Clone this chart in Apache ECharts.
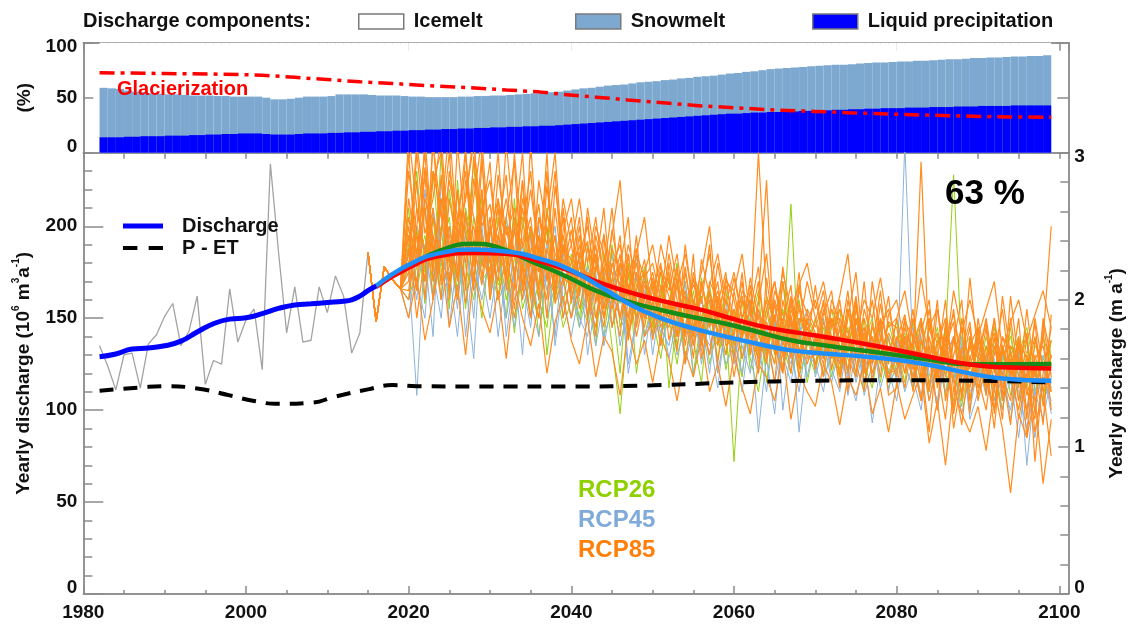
<!DOCTYPE html>
<html><head><meta charset="utf-8">
<script src="https://cdn.jsdelivr.net/npm/echarts@6/dist/echarts.min.js"></script>
<style>html,body{margin:0;padding:0;background:#fff}#c{width:1130px;height:624px}</style>
</head><body><div id="c"></div>
<script>
// ---------------- DATA ----------------
const barFirstYear = 1982; // bars 1982..2098
const liquidTop = [
 14,14,14,14.5,14.5,15,15,15,15.5,15.5,
 15.5,16,16,16.5,16.5,17,17,17.5,17.5,17.5,
 17,16.5,16.5,16.5,17,17.5,17.5,17.5,18,18,
 18.5,18.5,19,19,19.5,19.5,20,20,20.5,20.5,
 21,21,21.5,21.5,22,22,22.5,22.5,23,23,
 23.5,23.5,24,24,24.5,24.5,25,25.5,26,26.5,
 27,27.5,28,28.5,29,29.5,30,30.5,31,31.5,
 32,32.5,33,33.5,34,34.5,35,35.5,35.5,36,
 36.5,36.5,37,37,37.5,37.5,38,38,38.5,38.5,
 39,39,39.5,39.5,40,40,40.5,40.5,40.5,41,
 41,41,41.5,41.5,41.5,42,42,42,42.5,42.5,
 42.5,42.5,43,43,43,43,43];
const snowTop = [
 59,58.5,58,56.5,55.5,55,54,53.5,53,53,
 52.5,52,52,52,51.5,51.5,51,51,51,51,
 50,48.5,48.5,49,50,51,51,51,51.5,53,
 53,53,53,52.5,52,52,52,51.5,51,51,
 50.5,50.5,50.5,50.5,51,51,51.5,51.5,52,52,
 52.5,53,53.5,54,54.5,55,55.5,56.5,57.5,58.5,
 59,60,61,61.5,62,63,64,64.5,65,66,
 66.5,67.5,68,69,69.5,70,71,72,72.5,73.5,
 74,75,76,76.5,77,77.5,78,78.5,79,79.5,
 80,80,80.5,81,81.5,82,82,82.5,83,83,
 83.5,83.5,84,84.5,85,85,85.5,86,86,86.5,
 86.5,87,87.5,87.5,88,88,88.5];
const glacierization = [[1982,72.7],[1990,72],[1996,71.5],[2002,70.5],[2006,68.5],[2010,66.5],[2014,64.5],[2018,63],[2022,61],[2027,59.3],[2032,57],[2036,55.3],[2039,53],[2043,50.5],[2047,48],[2052,45],[2056,42.5],[2061,40.5],[2065,38.8],[2070,37.5],[2074,36.4],[2079,35.2],[2083,34.3],[2088,33.4],[2092,32.7],[2099,32.2]];

const obsFirstYear = 1982; // observed yearly discharge 1982..2015
const observed = [135,124,111,130,131,112,136,141,151,158,135,143,162,114,127,125,166,137,149,155,122,234,186,142,167,137,138,167,153,173,162,131,142,186];
const dischargeSmooth = [[1982,129],[1984,130.5],[1986,133.2],[1988,133.8],[1990,135],[1992,137.5],[1994,142.5],[1996,147],[1998,149.5],[2000,150.2],[2002,152.5],[2004,155.3],[2006,157.2],[2008,157.8],[2010,158.5],[2012,159.2],[2013,160],[2014,162],[2015,165],[2016,167.5]];
const pEt = [[1982,110.5],[1987,112.3],[1990,113],[1994,111.8],[1998,108],[2001,105],[2004,103.4],[2008,104],[2011,107.4],[2015,111.3],[2018,113.6],[2021,113],[2030,112.8],[2040,112.8],[2050,113.5],[2060,115],[2070,116],[2080,116.3],[2090,116],[2099,115]];

const projFirstYear = 2015; // projections 2015..2099
const projStart = [186,148,178,171,166]; // 2015-2019 common
const rcp26 = [
 [190,230,175,205,160,220,185,200,170,215, 180,160,205,175,190,150,170,198,160,182, 165,145,180,160,170,135,98,150,172,140, 160,175,112,150,140,165,135,155,128,148, 72,140,150,130,162,145,138,212,125,150, 140,128,155,132,145,118,150,135,125,148, 130,142,118,135,150,122,140,228,130,118, 135,125,145,118,130,140,112,135,128,120],
 [170,185,210,160,240,178,195,155,205,180, 200,175,150,215,165,185,140,175,195,158, 185,160,148,172,155,190,145,165,150,175, 140,158,170,135,160,120,150,168,140,130, 155,128,145,165,115,148,135,120,150,138, 125,150,118,140,130,160,112,135,145,120, 135,115,148,125,110,140,128,115,145,108, 118,140,125,100,135,122,140,110,128,132],
 [210,165,190,180,200,155,225,178,160,195, 165,205,185,142,178,200,160,145,180,170, 150,178,162,135,185,160,120,175,148,160, 170,140,155,180,128,150,162,125,145,165, 130,160,122,140,155,130,170,142,118,135, 150,132,140,122,155,128,138,150,115,140, 120,138,130,150,115,132,108,140,125,135, 128,110,138,125,145,105,130,118,140,125],
 [180,200,158,230,175,190,165,210,185,150, 190,168,178,200,155,172,188,130,168,195, 172,150,190,168,140,172,158,180,120,150, 150,128,160,145,170,138,115,160,150,122, 145,150,128,110,140,125,155,130,145,115, 138,120,145,155,120,142,125,112,140,130, 148,125,112,138,130,120,145,125,102,128, 140,122,115,135,108,130,145,120,115,110],
 [160,178,195,170,185,205,160,188,235,170, 178,190,160,182,205,165,150,210,170,145, 160,185,170,150,175,145,165,140,160,178, 145,165,150,125,155,140,172,145,135,155, 140,118,160,145,130,150,122,140,160,132, 120,145,130,118,135,150,125,145,130,112, 125,140,135,115,128,145,120,105,132,140, 122,135,105,128,140,118,132,125,105,138]
];
const rcp45 = [
 [175,108,190,160,215,145,185,170,128,200, 165,190,150,178,130,195,160,175,140,185, 160,175,150,168,140,155,180,125,150,165, 140,155,128,150,165,118,145,135,150,125, 135,110,145,88,130,140,120,150,88,130, 125,140,115,135,120,105,130,93,125,140, 115,245,130,108,125,118,140,100,122,110, 118,130,105,125,95,120,112,85,118,105],
 [195,170,150,210,180,165,200,140,185,175, 150,180,205,160,170,145,190,165,180,150, 175,145,165,185,150,170,135,158,175,140, 155,142,160,130,145,158,125,150,138,160, 125,150,135,120,145,115,138,125,150,118, 140,118,130,145,108,132,120,140,112,128, 130,110,125,140,105,130,115,125,98,120, 112,128,118,100,125,110,90,122,105,115],
 [160,200,185,140,225,190,155,205,180,160, 185,140,175,200,160,180,150,192,135,170, 150,185,130,160,175,145,165,150,185,130, 160,135,150,170,140,155,132,165,120,145, 150,128,160,135,110,148,130,115,140,155, 118,135,150,125,140,115,135,128,145,110, 138,125,112,148,120,105,135,115,140,100, 125,108,135,115,100,128,70,115,125,98],
 [185,160,220,175,150,200,172,195,150,210, 170,195,140,175,190,160,140,178,200,158, 140,165,178,135,160,185,150,140,165,150, 170,145,135,158,125,145,160,140,112,150, 140,120,150,128,140,160,100,135,125,145, 130,150,122,110,138,128,145,118,132,122, 105,135,145,118,128,100,130,140,115,125, 135,115,100,130,118,85,125,108,130,112],
 [150,185,170,195,160,175,140,190,165,180, 200,160,170,145,185,170,200,150,168,190, 165,150,140,175,135,160,170,120,148,172, 130,160,150,140,170,135,150,120,160,140, 148,135,120,155,128,98,145,132,110,140, 125,110,140,130,118,145,108,125,138,115, 122,140,118,100,135,128,110,125,135,95, 110,120,128,105,115,132,100,110,95,118]
];
const rcp85 = [
 [205,178,232,190,160,215,188,170,226,195, 180,210,165,198,176,150,205,182,168,190, 158,185,172,140,196,165,150,178,160,145, 170,148,160,132,175,150,138,165,142,155, 128,160,145,120,172,140,130,152,118,148, 135,160,122,145,110,150,138,125,158,130, 118,145,130,105,150,122,95,140,128,112, 138,108,150,120,92,135,115,148,102,125],
 [175,240,196,215,250,182,205,230,178,210, 225,188,200,172,215,195,160,208,185,176, 198,170,162,190,155,180,168,145,175,160, 142,168,155,178,135,160,148,130,162,140, 155,138,165,142,125,158,135,148,128,150, 122,148,135,160,128,118,142,130,150,115, 140,128,155,118,135,100,148,125,110,138, 120,145,98,132,118,140,85,128,135,110],
 [160,195,170,248,185,200,172,240,190,168, 198,240,180,165,225,178,195,150,210,172, 168,195,150,178,210,160,140,185,155,170, 160,135,180,150,162,128,170,145,158,138, 142,175,130,155,140,115,160,138,145,170, 150,128,140,112,155,135,145,120,138,162, 125,150,110,138,125,160,105,130,145,98, 150,125,112,162,130,105,140,72,120,145],
 [188,165,210,175,228,160,245,195,182,220, 168,195,215,185,160,200,176,230,165,188, 182,155,175,165,145,188,175,158,195,150, 165,180,138,158,145,172,150,160,125,168, 150,128,148,170,135,152,122,162,140,125, 140,118,150,138,165,125,110,148,130,142, 132,112,140,125,88,135,150,118,92,130, 108,135,125,95,150,118,100,130,112,75],
 [250,210,185,230,205,255,190,215,245,200, 212,180,245,200,190,220,185,205,240,178, 190,215,180,205,170,195,225,165,185,172, 180,160,195,168,185,158,175,200,152,170, 165,185,150,240,162,148,175,155,168,180, 155,170,145,162,185,140,160,150,172,145, 150,165,138,172,145,155,130,165,142,160, 140,155,170,132,148,160,138,152,165,145],
 [150,172,138,160,185,145,168,130,175,155, 142,165,128,170,150,135,158,120,148,162, 138,125,150,118,140,132,108,145,125,138, 115,140,128,105,132,118,140,110,125,102, 130,112,98,125,118,105,132,95,120,110, 102,125,115,92,118,108,125,98,112,88, 115,95,108,120,82,105,70,112,98,88, 102,78,112,90,55,98,85,108,60,95],
 [215,185,228,170,198,240,176,208,165,235, 190,170,205,235,168,185,212,170,195,150, 175,200,160,185,150,170,195,138,165,182, 150,175,162,140,190,155,135,170,160,148, 172,150,135,160,225,130,148,168,122,155, 145,158,132,120,150,175,128,140,118,152, 160,135,122,148,112,138,128,155,118,172, 130,118,140,108,162,125,142,98,150,128],
 [178,225,160,205,182,170,218,188,200,172, 205,160,185,198,240,170,150,188,172,205, 160,178,192,150,172,155,180,168,140,162, 175,152,145,168,140,185,128,152,170,135, 140,165,158,132,150,170,145,120,158,135, 168,135,155,145,132,158,120,170,140,128, 138,152,128,235,130,115,145,100,150,122, 145,112,130,155,118,138,108,125,92,152],
 [165,200,240,178,215,190,160,225,205,185, 170,215,190,155,200,230,178,160,222,185, 205,162,188,175,195,145,165,190,172,150, 158,190,170,150,165,140,182,162,148,172, 160,140,172,150,132,165,152,140,175,128, 130,152,165,128,140,120,155,138,125,148, 145,120,135,150,128,142,118,138,160,105, 128,150,120,140,132,112,155,118,138,200],
 [195,150,185,210,168,178,200,158,185,240, 160,195,175,150,180,165,225,198,158,172, 150,168,205,158,182,175,150,172,188,140, 148,162,175,140,155,168,160,145,180,152, 118,145,135,152,140,125,170,130,150,145, 125,140,150,135,122,148,135,160,128,118, 128,140,115,130,105,125,140,90,118,135, 118,100,135,112,128,95,120,140,110,130],
 [230,195,170,245,205,180,220,165,238,190, 175,228,195,210,165,245,180,200,175,215, 190,165,210,180,160,198,172,150,185,205, 165,150,185,160,142,175,158,190,135,160, 148,170,130,158,185,140,150,128,165,152, 142,128,160,148,120,155,140,132,165,125, 150,130,118,142,160,112,135,148,105,140, 128,148,110,135,120,150,95,138,125,110],
 [185,245,210,160,195,225,200,242,170,205, 235,175,200,185,225,160,205,190,230,168, 180,205,150,195,175,210,160,185,150,175, 190,165,172,150,178,145,165,185,150,130, 165,142,155,178,128,160,145,135,168,140, 132,155,140,125,160,138,150,115,145,155, 135,120,150,130,110,155,125,140,108,135, 145,120,100,140,125,135,112,95,148,118],
 [170,210,185,225,240,165,195,215,250,178, 195,215,170,240,188,205,165,222,180,195, 165,185,200,170,150,178,190,162,180,155, 172,145,158,175,160,135,170,150,165,145, 150,162,140,128,155,170,138,160,132,148, 160,140,128,150,138,162,125,145,135,120, 122,140,135,115,145,128,160,110,132,148, 112,130,142,118,105,138,128,115,142,100],
 [240,178,215,195,170,230,205,180,215,248, 185,200,228,170,210,185,175,240,160,198, 215,180,165,200,185,160,178,205,145,168, 155,178,165,185,150,172,140,168,185,158, 175,150,168,140,160,132,178,145,155,135, 148,165,135,155,142,130,170,125,150,138, 125,148,140,130,155,120,138,152,128,115, 140,125,150,105,135,128,115,150,122,138],
 [200,165,250,185,215,195,170,205,185,220, 160,188,172,205,180,150,195,175,162,210, 170,190,160,145,178,165,185,140,168,175, 138,160,150,172,125,160,145,130,158,175, 135,150,160,125,148,135,120,155,140,130, 138,125,150,118,140,160,115,135,148,108, 112,138,125,105,140,118,132,98,125,145, 105,125,90,135,118,100,130,88,115,130]
];
const rcp26Mean = [[2016,167.5],[2020,178],[2024,187],[2028,190.5],[2031,188.5],[2035,181],[2039,173.5],[2043,165],[2047,159],[2051,154.5],[2055,150.5],[2059,147],[2063,142.5],[2067,138],[2071,135.3],[2077,131.7],[2083,128.1],[2089,124.9],[2094,125],[2099,125.1]];
const rcp45Mean = [[2016,167.5],[2020,179],[2024,185.5],[2028,187.3],[2032,186.3],[2036,182.5],[2040,176],[2044,166],[2047,158],[2051,150],[2055,144.5],[2059,140],[2063,136],[2067,132.5],[2071,130.8],[2077,128.7],[2083,125.4],[2089,120],[2093,117.2],[2099,116]];
const rcp85Mean = [[2016,167],[2020,177.5],[2024,184],[2028,185.5],[2032,185],[2036,181],[2040,175.5],[2044,168.5],[2048,163],[2052,158.5],[2056,154.5],[2060,149.5],[2064,145],[2068,142],[2071,139.9],[2077,135.3],[2083,130],[2089,124.8],[2093,123.3],[2099,122.7]];

// ---------------- CHART ----------------
const FONT = "'Liberation Sans', Arial, sans-serif";
const AX = '#707070', TK = '#8c8c8c', TXT = '#111';
const X0 = 1980, X1 = 2101.1;
const GL = 83.3, GR = 61.7;
const pxPerYear = (1130 - GL - GR) / (X1 - X0);
const lbl = {fontFamily: FONT, fontWeight: 'bold', fontSize: 19, color: TXT};
const lblRich = {
  lo: Object.assign({padding: [0, 0, 12, 0]}, lbl),
  hi: Object.assign({padding: [9, 0, 0, 0]}, lbl)
};

const barYears = liquidTop.map((_, i) => barFirstYear + i);
const obsData = observed.map((v, i) => [obsFirstYear + i, v]);
const toProj = arr => projStart.concat(arr).map((v, i) => [projFirstYear + i, v]);

function xAx(grid, pos, interval, tickLen, opts) {
  return Object.assign({
    type: 'value', gridIndex: grid, position: pos, min: X0, max: X1, interval: interval,
    axisLine: {show: true, onZero: false, lineStyle: {color: AX, width: 1.5}},
    axisTick: {show: true, inside: true, length: tickLen, lineStyle: {color: TK, width: 1.5}},
    axisLabel: {show: false}, splitLine: {show: false}
  }, opts || {});
}
function yAx(grid, pos, min, max, interval, tickLen, opts) {
  return Object.assign({
    type: 'value', gridIndex: grid, position: pos, min: min, max: max, interval: interval,
    axisLine: {show: true, onZero: false, lineStyle: {color: AX, width: 1.5}},
    axisTick: {show: true, inside: true, length: tickLen, lineStyle: {color: TK, width: 1.5}},
    axisLabel: {show: false}, splitLine: {show: false}
  }, opts || {});
}
function yLabel(lowVal, highVal, hideMax) {
  return Object.assign({show: true, margin: 6, showMaxLabel: !hideMax, rich: lblRich,
    formatter: v => v === lowVal ? '{lo|' + v + '}' : (v === highVal ? '{hi|' + v + '}' : String(v))}, lbl);
}
const nameRich = {
  t: {fontFamily: FONT, fontWeight: 'bold', fontSize: 19, color: TXT, lineHeight: 24},
  s: {fontFamily: FONT, fontWeight: 'bold', fontSize: 10, color: TXT, lineHeight: 12, verticalAlign: 'top'}
};

const series = [];
// top panel bars
series.push({name: 'Icemelt', type: 'bar', xAxisIndex: 0, yAxisIndex: 0, barWidth: pxPerYear, barGap: '-100%',
  itemStyle: {color: '#ffffff'}, data: barYears.map(y => [y + 0.5, 100]), z: 1});
series.push({name: 'Snowmelt', type: 'bar', xAxisIndex: 0, yAxisIndex: 0, barWidth: pxPerYear, barGap: '-100%',
  itemStyle: {color: '#7da8d0'}, data: barYears.map((y, i) => [y + 0.5, snowTop[i]]), z: 2});
series.push({name: 'Liquid precipitation', type: 'bar', xAxisIndex: 0, yAxisIndex: 0, barWidth: pxPerYear, barGap: '-100%',
  itemStyle: {color: '#0000ff'}, data: barYears.map((y, i) => [y + 0.5, liquidTop[i]]), z: 3});
series.push({name: 'Glacierization', type: 'line', xAxisIndex: 0, yAxisIndex: 0, symbol: 'none', z: 10,
  lineStyle: {color: '#ff0000', width: 3.5, type: [15, 6, 4, 6]}, data: glacierization});

// main panel
series.push({name: 'Observed', type: 'line', xAxisIndex: 2, yAxisIndex: 2, symbol: 'none', z: 3,
  lineStyle: {color: '#a3a3a3', width: 1.3}, data: obsData});
rcp26.forEach((a, k) => series.push({name: 'rcp26_' + k, type: 'line', xAxisIndex: 2, yAxisIndex: 2, symbol: 'none', z: 3,
  lineStyle: {color: '#95d10f', width: 1}, data: toProj(a)}));
rcp45.forEach((a, k) => series.push({name: 'rcp45_' + k, type: 'line', xAxisIndex: 2, yAxisIndex: 2, symbol: 'none', z: 3,
  lineStyle: {color: '#8db3dc', width: 1}, data: toProj(a)}));
rcp85.forEach((a, k) => series.push({name: 'rcp85_' + k, type: 'line', xAxisIndex: 2, yAxisIndex: 2, symbol: 'none', z: 3,
  lineStyle: {color: '#ff8c1e', width: 1.2}, data: toProj(a)}));
series.push({name: 'P - ET', type: 'line', xAxisIndex: 2, yAxisIndex: 2, symbol: 'none', smooth: true, z: 5,
  lineStyle: {color: '#000000', width: 4, type: [14, 10]}, data: pEt});
series.push({name: 'RCP26 mean', type: 'line', xAxisIndex: 2, yAxisIndex: 2, symbol: 'none', smooth: true, z: 6,
  lineStyle: {color: '#168c1a', width: 4.5}, data: rcp26Mean});
series.push({name: 'RCP85 mean', type: 'line', xAxisIndex: 2, yAxisIndex: 2, symbol: 'none', smooth: true, z: 6,
  lineStyle: {color: '#ff0000', width: 4.5}, data: rcp85Mean});
series.push({name: 'RCP45 mean', type: 'line', xAxisIndex: 2, yAxisIndex: 2, symbol: 'none', smooth: true, z: 6,
  lineStyle: {color: '#1e8fff', width: 4.5}, data: rcp45Mean});
series.push({name: 'Discharge', type: 'line', xAxisIndex: 2, yAxisIndex: 2, symbol: 'none', smooth: true, z: 7,
  lineStyle: {color: '#0000ff', width: 5}, data: dischargeSmooth});

const legText = {fontFamily: FONT, fontWeight: 'bold', fontSize: 20, color: TXT, lineHeight: 22, padding: [0, 0, 0, 5]};
const boxLegend = (name, color, left) => ({
  show: true, left: left, top: 10.5, padding: 0, itemWidth: 45, itemHeight: 15, selectedMode: false,
  data: [{name: name, icon: 'rect', itemStyle: {color: color, borderColor: '#7a7a7a', borderWidth: 1.5}}],
  textStyle: legText
});

const option = {
  animation: false,
  backgroundColor: '#fff',
  grid: [
    {left: GL, right: GR, top: 42.7, height: 110, containLabel: false, outerBoundsMode: 'none'},
    {left: GL, right: GR, top: 152.7, bottom: 30, containLabel: false, outerBoundsMode: 'none'}
  ],
  xAxis: [
    xAx(0, 'top', 20, 8),
    xAx(0, 'top', 5, 5, {axisLine: {show: false}}),
    xAx(1, 'bottom', 20, 8, {axisLabel: Object.assign({show: true, margin: 9, showMaxLabel: false, formatter: v => String(v)}, lbl)}),
    xAx(1, 'bottom', 5, 4, {axisLine: {show: false}}),
    xAx(1, 'top', 5, 6)
  ],
  yAxis: [
    yAx(0, 'left', 0, 100, 50, 10, {axisLabel: yLabel(0, 100, false),
      name: '(%)', nameLocation: 'middle', nameRotate: 90, nameGap: 46,
      nameTextStyle: {fontFamily: FONT, fontWeight: 'bold', fontSize: 19, color: TXT}}),
    yAx(0, 'right', 0, 100, 50, 11),
    yAx(1, 'left', 0, 240, 50, 20, {axisLabel: yLabel(0, -1, true),
      name: '{t|Yearly discharge (10}{s|6}{t| m}{s|3}{t|a}{s|-1}{t|)}', nameLocation: 'middle', nameRotate: 90, nameGap: 48,
      nameTextStyle: {rich: nameRich}}),
    yAx(1, 'left', 0, 240, 10, 9, {axisLine: {show: false}}),
    yAx(1, 'right', 0, 3, 1, 10, {axisLabel: yLabel(0, 3, false),
      name: '{t|Yearly discharge (m a}{s|-1}{t|)}', nameLocation: 'middle', nameRotate: 90, nameGap: 36,
      nameTextStyle: {rich: nameRich}}),
    yAx(1, 'right', 0, 3, 0.2, 8, {axisLine: {show: false}})
  ],
  legend: [
    boxLegend('Icemelt', '#ffffff', 358),
    boxLegend('Snowmelt', '#7da8d0', 575),
    boxLegend('Liquid precipitation', '#0000ff', 812),
    {show: true, left: 123, top: 215, orient: 'vertical', padding: 0, itemGap: 0, itemWidth: 40, itemHeight: 5, selectedMode: false,
     data: [
       {name: 'Discharge', icon: 'path://M0 0L40 0L40 5L0 5Z', itemStyle: {color: '#0000ff'}},
       {name: 'P - ET', icon: 'path://M0 0L14 0L14 4L0 4ZM25 0L39 0L39 4L25 4Z', itemStyle: {color: '#000000'}}
     ],
     textStyle: Object.assign({}, legText, {padding: [0, 0, 0, 14]})}
  ],
  graphic: [
    {type: 'text', x: 83, y: 21.5, style: {text: 'Discharge components:', font: 'bold 20px ' + FONT, fill: TXT, align: 'left', verticalAlign: 'middle'}},
    {type: 'text', x: 117, y: 89, z: 20, style: {text: 'Glacierization', font: 'bold 20px ' + FONT, fill: '#ff0000', align: 'left', verticalAlign: 'middle'}},
    {type: 'text', x: 945, y: 194, z: 20, style: {text: '63 %', font: 'bold 35px ' + FONT, fill: '#000', align: 'left', verticalAlign: 'middle'}},
    {type: 'text', x: 578, y: 490, z: 20, style: {text: 'RCP26', font: 'bold 24px ' + FONT, fill: '#8fd000', align: 'left', verticalAlign: 'middle'}},
    {type: 'text', x: 578, y: 520, z: 20, style: {text: 'RCP45', font: 'bold 24px ' + FONT, fill: '#80aada', align: 'left', verticalAlign: 'middle'}},
    {type: 'text', x: 578, y: 550, z: 20, style: {text: 'RCP85', font: 'bold 24px ' + FONT, fill: '#ff7f0a', align: 'left', verticalAlign: 'middle'}}
  ],
  series: series
};
const chart = echarts.init(document.getElementById('c'), null, {renderer: 'canvas'});
chart.setOption(option);
</script>
</body></html>
